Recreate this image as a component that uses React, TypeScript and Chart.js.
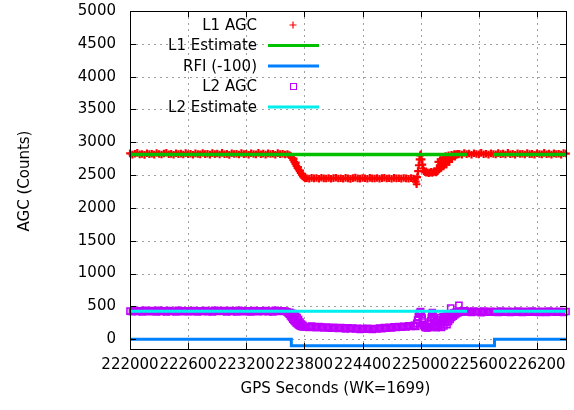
import { useEffect, useRef } from "react";
import { Chart, registerables } from "chart.js";

Chart.register(...registerables);

// Axis ranges and tick positions
const X_MIN = 222000;
const X_MAX = 226500;
const Y_MIN = -150;
const Y_MAX = 5000;
const X_TICKS = [222000, 222600, 223200, 223800, 224400, 225000, 225600, 226200];
const Y_TICKS = [0, 500, 1000, 1500, 2000, 2500, 3000, 3500, 4000, 4500, 5000];

// Receiver logs AGC every 25 s in the steady stretches
const SAMPLE_STEP = 25;

// ---- L1 AGC (counts) ----
// steady, from 222000 s
const L1_PRE_START = 222000;
const L1_PRE = [
  2830, 2812, 2825, 2838, 2815, 2822, 2808, 2832, 2819, 2826,
  2811, 2836, 2821, 2814, 2829, 2840, 2817, 2823, 2809, 2833,
  2820, 2827, 2813, 2835, 2818, 2824, 2810, 2831, 2822, 2816,
  2837, 2819, 2825, 2811, 2834, 2820, 2828, 2813, 2839, 2817,
  2823, 2808, 2832, 2821, 2826, 2814, 2836, 2819, 2824, 2810,
  2833, 2822, 2815, 2838, 2818, 2827, 2812, 2830, 2821, 2825,
  2809, 2835, 2819, 2826, 2814, 2822,
];
// onset of interference
const L1_DROP: [number, number][] = [
  [223645, 2805], [223660, 2790], [223672, 2760], [223684, 2730], [223695, 2700],
  [223706, 2670], [223717, 2640], [223728, 2610], [223739, 2585], [223750, 2560],
  [223761, 2535], [223772, 2505], [223783, 2480], [223795, 2462], [223808, 2450],
  [223690, 2750], [223712, 2690], [223735, 2620], [223757, 2570], [223779, 2520],
];
// suppressed level, from 223825 s
const L1_LOW_START = 223825;
const L1_LOW = [
  2452, 2446, 2458, 2449, 2455, 2443, 2460, 2450, 2447, 2456,
  2444, 2453, 2459, 2448, 2451, 2445, 2457, 2450, 2442, 2454,
  2461, 2449, 2446, 2455, 2452, 2444, 2458, 2450, 2447, 2456,
  2443, 2453, 2460, 2448, 2451, 2445, 2457, 2449, 2452, 2446,
  2455, 2450, 2444, 2453, 2448,
];
// brief recovery, second dip and return
const L1_RECOVERY: [number, number][] = [
  [224940, 2440], [224950, 2400], [224958, 2360], [224965, 2470], [224972, 2560],
  [224980, 2650], [224988, 2740], [224995, 2800], [225002, 2815], [225010, 2740],
  [225018, 2660], [225026, 2600], [225034, 2560], [225045, 2548], [225058, 2535],
  [225070, 2542], [225083, 2528], [225095, 2538], [225108, 2550], [225120, 2532],
  [225133, 2545], [225145, 2556], [225158, 2540], [225168, 2600], [225175, 2560],
  [225182, 2700], [225190, 2590], [225197, 2650], [225205, 2740], [225212, 2610],
  [225220, 2680], [225228, 2760], [225235, 2630], [225243, 2720], [225250, 2690],
  [225258, 2790], [225265, 2660], [225273, 2750], [225280, 2720], [225288, 2800],
  [225295, 2700], [225303, 2770], [225310, 2745], [225318, 2810], [225325, 2760],
  [225333, 2790], [225340, 2800], [225348, 2820], [225355, 2780], [225363, 2815],
  [225370, 2805], [225380, 2825], [225390, 2815],
];
// steady again, from 225400 s
const L1_POST_START = 225400;
const L1_POST = [
  2824, 2812, 2836, 2819, 2828, 2810, 2833, 2821, 2815, 2838,
  2818, 2826, 2811, 2831, 2822, 2816, 2835, 2820, 2827, 2813,
  2839, 2817, 2824, 2809, 2832, 2821, 2826, 2814, 2836, 2819,
  2823, 2810, 2833, 2822, 2815, 2838, 2818, 2827, 2812, 2830,
  2821, 2825, 2811, 2834, 2828,
];

// ---- L2 AGC (counts) ----
const L2_PRE_START = 222000;
const L2_PRE = [
  428, 418, 436, 422, 431, 415, 440, 425, 419, 434,
  427, 416, 438, 423, 430, 417, 435, 421, 429, 414,
  439, 426, 420, 433, 424, 418, 437, 428, 416, 432,
  422, 435, 419, 429, 415, 438, 425, 421, 434, 427,
  417, 436, 423, 430, 414, 439, 426, 419, 433, 424,
  416, 437, 428, 420, 431, 422, 435, 418, 429, 415,
  438, 425, 421, 433, 427,
];
const L2_DROP: [number, number][] = [
  [223620, 415], [223632, 400], [223644, 380], [223656, 355], [223668, 330],
  [223680, 305], [223692, 285], [223704, 265], [223716, 248], [223728, 232],
  [223740, 218], [223752, 205], [223764, 198], [223776, 192], [223788, 190],
  [223800, 188], [223650, 410], [223665, 395], [223680, 390], [223695, 370],
  [223710, 350], [223725, 330], [223740, 300], [223755, 260], [223770, 230],
  [223785, 210],
];
const L2_LOW_START = 223825;
const L2_LOW = [
  192, 180, 198, 186, 175, 190, 182, 170, 185, 176,
  168, 181, 172, 162, 178, 166, 158, 172, 160, 168,
  155, 163, 150, 160, 152, 165, 156, 148, 162, 158,
  170, 160, 175, 166, 180, 172, 186, 178, 192, 184,
  196, 188, 202, 194, 206,
];
const L2_RECOVERY: [number, number][] = [
  [224940, 210], [224950, 195], [224960, 240], [224968, 290], [224976, 340],
  [224984, 390], [224992, 410], [225000, 420], [225008, 380], [225016, 320],
  [225024, 260], [225032, 210], [225040, 190], [225050, 175], [225060, 185],
  [225070, 170], [225080, 180], [225090, 195], [225100, 230], [225105, 280],
  [225110, 330], [225115, 380], [225120, 405], [225128, 350], [225136, 290],
  [225144, 230], [225152, 190], [225160, 175], [225168, 210], [225176, 260],
  [225184, 190], [225192, 300], [225200, 220], [225208, 330], [225216, 180],
  [225224, 280], [225232, 340], [225240, 200], [225248, 310], [225256, 250],
  [225264, 350], [225272, 220], [225280, 320], [225288, 270], [225296, 360],
  [225304, 300], [225312, 380], [225320, 330], [225328, 390], [225336, 350],
  [225344, 400], [225352, 370], [225360, 410], [225368, 390], [225376, 415],
  [225384, 400], [225392, 420], [225400, 410], [225412, 425], [225424, 415],
  [225436, 430], [225448, 420], [225460, 428], [225472, 418], [225486, 424],
  [225310, 475], [225395, 515],
];
const L2_POST_START = 225500;
const L2_POST = [
  418, 408, 426, 414, 421, 405, 429, 416, 410, 424,
  412, 420, 406, 427, 417, 411, 425, 409, 419, 413,
  428, 415, 407, 423, 418, 410, 426, 412, 420, 406,
  424, 416, 409, 427, 414, 419, 411, 425, 417, 408,
  421,
];

// Estimates hold a constant level, with no estimate between 225480 and 225750
const L1_ESTIMATE: [number, number | null][] = [
  [222000, 2815], [225480, 2815], [225615, null], [225750, 2815], [226500, 2815],
];
const L2_ESTIMATE: [number, number | null][] = [
  [222000, 425], [225480, 425], [225615, null], [225750, 425], [226500, 425],
];

// RFI flag, offset by -100 while active (step function)
const RFI: [number, number][] = [
  [222000, 0], [223665, -100], [225762, 0], [226500, 0],
];

const FONT = "'DejaVu Sans', sans-serif";
const RED = "#ff0000";
const GREEN = "#00c000";
const BLUE = "#0080ff";
const MAGENTA = "#c000ff";
const CYAN = "#00eeee";

const sampled = (start: number, values: number[]) =>
  values.map((y, i) => ({ x: start + i * SAMPLE_STEP, y }));
const toPoints = (rows: [number, number | null][]) => rows.map(([x, y]) => ({ x, y }));

const l1Points = [
  ...sampled(L1_PRE_START, L1_PRE),
  ...toPoints(L1_DROP),
  ...sampled(L1_LOW_START, L1_LOW),
  ...toPoints(L1_RECOVERY),
  ...sampled(L1_POST_START, L1_POST),
];
const l2Points = [
  ...sampled(L2_PRE_START, L2_PRE),
  ...toPoints(L2_DROP),
  ...sampled(L2_LOW_START, L2_LOW),
  ...toPoints(L2_RECOVERY),
  ...sampled(L2_POST_START, L2_POST),
];

type LegendEntry = { label: string; kind: "cross" | "square" | "line"; color: string };
const LEGEND: LegendEntry[] = [
  { label: "L1 AGC", kind: "cross", color: RED },
  { label: "L1 Estimate", kind: "line", color: GREEN },
  { label: "RFI (-100)", kind: "line", color: BLUE },
  { label: "L2 AGC", kind: "square", color: MAGENTA },
  { label: "L2 Estimate", kind: "line", color: CYAN },
];

const framePlugin = {
  id: "gnuplotFrame",
  beforeDatasetsDraw(chart: any) {
    const { ctx, chartArea: a, scales } = chart;
    ctx.save();
    ctx.strokeStyle = "#a0a0a0";
    ctx.lineWidth = 1;
    ctx.setLineDash([2, 4]);
    for (const v of X_TICKS) {
      const x = Math.round(scales.x.getPixelForValue(v)) + 0.5;
      if (x <= a.left + 1) continue;
      ctx.beginPath();
      ctx.moveTo(x, a.top);
      ctx.lineTo(x, a.bottom);
      ctx.stroke();
    }
    for (const v of Y_TICKS) {
      const y = Math.round(scales.y.getPixelForValue(v)) + 0.5;
      if (y <= a.top + 1) continue;
      ctx.beginPath();
      ctx.moveTo(a.left, y);
      ctx.lineTo(a.right, y);
      ctx.stroke();
    }
    ctx.restore();
  },
  afterDatasetsDraw(chart: any) {
    const { ctx, chartArea: a, scales } = chart;
    ctx.save();
    // frame
    ctx.strokeStyle = "#000";
    ctx.lineWidth = 1;
    ctx.setLineDash([]);
    ctx.strokeRect(Math.round(a.left) + 0.5, Math.round(a.top) + 0.5, Math.round(a.right - a.left), Math.round(a.bottom - a.top));
    // inward tick marks on all four sides
    const tl = 6;
    ctx.beginPath();
    for (const v of X_TICKS) {
      const x = Math.round(scales.x.getPixelForValue(v)) + 0.5;
      ctx.moveTo(x, a.bottom);
      ctx.lineTo(x, a.bottom - tl);
      ctx.moveTo(x, a.top);
      ctx.lineTo(x, a.top + tl);
    }
    for (const v of Y_TICKS) {
      const y = Math.round(scales.y.getPixelForValue(v)) + 0.5;
      ctx.moveTo(a.left, y);
      ctx.lineTo(a.left + tl, y);
      ctx.moveTo(a.right, y);
      ctx.lineTo(a.right - tl, y);
    }
    ctx.stroke();

    // legend
    ctx.font = `15px ${FONT}`;
    ctx.textAlign = "right";
    ctx.textBaseline = "middle";
    const rowY = [25, 45.5, 66, 86.5, 107];
    LEGEND.forEach((e, i) => {
      const y = rowY[i];
      ctx.fillStyle = "#000";
      ctx.fillText(e.label, 257, y + 1);
      ctx.strokeStyle = e.color;
      if (e.kind === "line") {
        ctx.lineWidth = 3;
        ctx.beginPath();
        ctx.moveTo(268, y);
        ctx.lineTo(319, y);
        ctx.stroke();
      } else if (e.kind === "cross") {
        ctx.lineWidth = 1.2;
        ctx.beginPath();
        ctx.moveTo(289.5, y);
        ctx.lineTo(296.5, y);
        ctx.moveTo(293, y - 3.5);
        ctx.lineTo(293, y + 3.5);
        ctx.stroke();
      } else {
        ctx.lineWidth = 1;
        ctx.strokeRect(290.5, y - 3, 6, 6);
      }
    });

    // axis titles
    ctx.fillStyle = "#000";
    ctx.textAlign = "center";
    ctx.textBaseline = "middle";
    ctx.fillText("GPS Seconds (WK=1699)", 335.5, 389);
    ctx.translate(25, 181);
    ctx.rotate(-Math.PI / 2);
    ctx.fillText("AGC (Counts)", 0, 0);
    ctx.restore();
  },
};

export default function App() {
  const canvasRef = useRef<HTMLCanvasElement | null>(null);

  useEffect(() => {
    const canvas = canvasRef.current;
    if (!canvas) return;
    const chart = new Chart(canvas, {
      type: "line",
      data: {
        datasets: [
          {
            label: "L1 AGC",
            data: l1Points,
            showLine: false,
            pointStyle: "cross",
            pointRadius: 3.8,
            pointBorderWidth: 2.2,
            borderColor: RED,
            backgroundColor: RED,
            clip: false,
            order: 5,
          },
          {
            label: "L1 Estimate",
            data: toPoints(L1_ESTIMATE),
            borderColor: GREEN,
            borderWidth: 3.5,
            pointRadius: 0,
            spanGaps: false,
            order: 4,
          },
          {
            label: "RFI (-100)",
            data: toPoints(RFI),
            borderColor: BLUE,
            borderWidth: 3,
            pointRadius: 0,
            stepped: "before",
            order: 3,
          },
          {
            label: "L2 AGC",
            data: l2Points,
            showLine: false,
            pointStyle: "rect",
            pointRadius: 4.3,
            pointBorderWidth: 1.6,
            borderColor: MAGENTA,
            backgroundColor: "rgba(0,0,0,0)",
            clip: false,
            order: 2,
          },
          {
            label: "L2 Estimate",
            data: toPoints(L2_ESTIMATE),
            borderColor: CYAN,
            borderWidth: 3,
            pointRadius: 0,
            spanGaps: false,
            order: 1,
          },
        ],
      },
      options: {
        animation: false,
        responsive: false,
        events: [],
        layout: { padding: { top: 11, right: 8, left: 0, bottom: 0 } },
        plugins: { legend: { display: false }, tooltip: { enabled: false }, title: { display: false } },
        scales: {
          x: {
            type: "linear",
            min: X_MIN,
            max: X_MAX,
            grid: { display: false, drawTicks: false },
            border: { display: false },
            afterBuildTicks: (scale: any) => {
              scale.ticks = X_TICKS.map((value) => ({ value }));
            },
            afterFit: (scale: any) => {
              scale.height = 61;
              scale.paddingLeft = 0;
              scale.paddingRight = 0;
            },
            ticks: {
              autoSkip: false,
              maxRotation: 0,
              minRotation: 0,
              padding: 7,
              color: "#000",
              font: { family: FONT, size: 15 },
              callback: (v: any) => String(v),
            },
          },
          y: {
            type: "linear",
            min: Y_MIN,
            max: Y_MAX,
            grid: { display: false, drawTicks: false },
            border: { display: false },
            afterBuildTicks: (scale: any) => {
              scale.ticks = Y_TICKS.map((value) => ({ value }));
            },
            afterFit: (scale: any) => {
              scale.width = 130;
              scale.paddingTop = 0;
              scale.paddingBottom = 0;
            },
            ticks: {
              autoSkip: false,
              padding: 14,
              color: "#000",
              font: { family: FONT, size: 15 },
              callback: (v: any) => String(v),
            },
          },
        },
      },
      plugins: [framePlugin],
    });
    return () => chart.destroy();
  }, []);

  return (
    <div style={{ position: "fixed", left: 0, top: 0, width: 574, height: 410, background: "#fff" }}>
      <canvas ref={canvasRef} width={574} height={410} />
    </div>
  );
}
